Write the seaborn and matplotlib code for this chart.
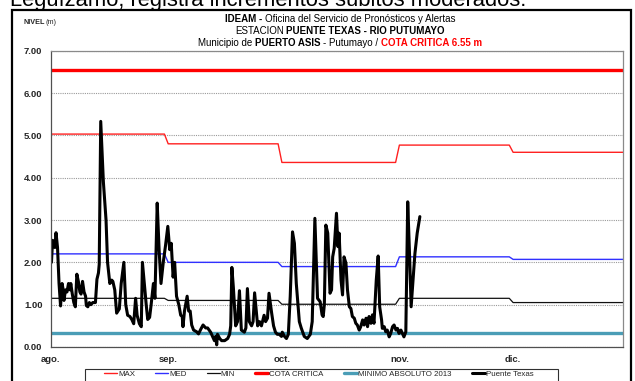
import matplotlib
matplotlib.use("Agg")
import numpy as np
import pandas as pd
import matplotlib.pyplot as plt
import seaborn as sns
from matplotlib.patches import Rectangle

# ---------------- datos ----------------
inicio = pd.Timestamp("2013-08-01")
fin_eje = pd.Timestamp("2013-12-30")
meses = pd.date_range("2013-08-01", periods=5, freq="MS")
etiquetas_meses = ["ago.", "sep.", "oct.", "nov.", "dic."]

# niveles de referencia mensuales (m)
nivel_max = [5.03, 4.80, 4.36, 4.77, 4.60]
nivel_med = [2.20, 2.00, 1.90, 2.13, 2.07]
nivel_min = [1.15, 1.10, 1.01, 1.15, 1.05]
cota_critica = 6.55
minimo_absoluto = 0.32

# lecturas de la estación Puente Texas (días desde el 1 de agosto, nivel en m)
dias_obs = [
    0.2, 0.5, 0.9, 1.1, 1.4, 1.8, 2.2, 2.6, 3.0, 3.2,
    3.5, 3.9, 4.3, 4.7, 5.1, 5.3, 5.7, 6.1, 6.5, 6.9,
    7.3, 7.7, 8.0, 8.4, 8.8, 9.2, 9.4, 9.8, 10.2, 10.6,
    11.1, 11.8, 12.2, 12.6, 12.8, 13.2, 13.9, 14.6, 15.0, 15.6,
    16.1, 16.4, 16.9, 17.4, 18.1, 18.6, 19.3, 19.8, 20.3, 20.9,
    21.4, 21.9, 22.4, 22.8, 23.4, 23.9, 24.2, 24.7, 25.2, 25.6,
    26.1, 26.5, 27.1, 27.5, 28.1, 28.6, 29.1, 29.7, 30.3, 30.9,
    31.4, 31.8, 32.3, 32.7, 33.2, 33.8, 34.3, 34.7, 34.9, 35.3,
    36.0, 36.4, 36.8, 37.2, 37.7, 38.5, 39.0, 39.6, 40.2, 40.9,
    41.4, 42.2, 42.7, 43.2, 43.5, 43.8, 44.0, 44.6, 45.1, 45.9,
    46.7, 47.2, 47.5, 47.8, 48.2, 48.8, 49.3, 49.8, 50.3, 51.1,
    51.5, 51.9, 52.4, 53.0, 53.4, 53.8, 54.6, 55.1, 55.6, 56.3,
    56.7, 57.2, 57.6, 58.3, 58.8, 59.3, 59.8, 60.3, 60.9, 61.1,
    61.7, 62.2, 62.7, 63.2, 63.8, 64.3, 64.8, 65.6, 66.1, 66.9,
    67.7, 68.5, 69.0, 69.7, 70.4, 71.1, 71.6, 71.9, 72.2, 72.6,
    73.1, 73.7, 74.1, 74.4, 74.8, 75.4, 75.8, 76.1, 76.6, 77.0,
    77.4, 77.9, 78.3, 78.8, 79.2, 79.6, 80.1, 80.5, 80.9, 81.4,
    81.8, 82.3, 82.7, 83.2, 83.6, 84.0, 84.5, 84.9, 85.3, 85.9,
    86.4, 86.8, 87.3, 87.5, 88.0, 88.4, 88.8, 89.3, 89.7, 90.2,
    90.6, 91.1, 91.5, 91.9, 92.4, 92.8, 93.2, 93.7, 94.2, 94.7,
    95.1, 95.6, 96.1, 96.7, 97.4,
]
nivel_obs = [
    2.00, 2.52, 2.48, 2.35, 2.70, 2.35, 1.50, 0.97, 1.50, 1.40,
    1.10, 1.35, 1.30, 1.50, 1.35, 1.50, 1.25, 1.05, 0.95, 1.72,
    1.55, 1.30, 1.25, 1.55, 1.30, 1.20, 0.98, 0.95, 1.05, 1.00,
    1.05, 1.05, 1.60, 1.75, 1.95, 5.33, 3.90, 3.00, 2.00, 1.50,
    1.58, 1.55, 1.35, 0.80, 0.90, 1.50, 2.00, 1.00, 0.75, 0.72,
    0.65, 0.55, 1.15, 0.75, 0.55, 0.48, 2.00, 1.50, 1.00, 0.65,
    0.70, 1.00, 1.50, 1.15, 3.40, 2.30, 1.50, 2.00, 2.40, 2.85,
    2.30, 2.45, 1.65, 2.00, 1.20, 1.00, 0.75, 0.72, 0.48, 0.85,
    1.20, 0.85, 0.85, 0.52, 0.40, 0.36, 0.31, 0.42, 0.52, 0.45,
    0.45, 0.35, 0.25, 0.15, 0.25, 0.05, 0.30, 0.20, 0.15, 0.15,
    0.20, 0.30, 0.50, 1.88, 1.40, 0.50, 0.60, 1.33, 0.40, 0.35,
    0.45, 1.38, 0.60, 0.50, 0.60, 1.28, 0.50, 0.60, 0.50, 0.75,
    0.60, 0.68, 1.27, 0.80, 0.50, 0.35, 0.30, 0.30, 0.25, 0.35,
    0.25, 0.20, 0.30, 1.20, 2.72, 2.45, 1.50, 0.60, 0.45, 0.25,
    0.20, 0.30, 0.60, 3.04, 1.15, 1.07, 0.76, 0.72, 1.00, 2.88,
    2.69, 1.27, 1.35, 2.13, 2.33, 3.16, 2.37, 2.69, 1.58, 1.23,
    2.13, 1.98, 1.35, 0.95, 0.91, 0.72, 0.68, 0.56, 0.52, 0.40,
    0.48, 0.64, 0.52, 0.68, 0.48, 0.72, 0.56, 0.76, 0.56, 1.58,
    2.15, 0.95, 0.64, 0.44, 0.48, 0.36, 0.40, 0.24, 0.32, 0.48,
    0.52, 0.40, 0.44, 0.32, 0.40, 0.32, 0.24, 0.36, 3.43, 2.13,
    0.95, 1.58, 2.21, 2.69, 3.08,
]


def escalones(valores):
    """Serie mensual: un tramo horizontal del primer al último día de cada mes."""
    fechas, niveles = [], []
    for mes, v in zip(meses, valores):
        fechas += [mes, mes + pd.offsets.MonthEnd(0)]
        niveles += [v, v]
    return pd.DataFrame({"fecha": fechas, "nivel": niveles})


def constante(v):
    return pd.DataFrame({"fecha": [meses[0], meses[-1] + pd.offsets.MonthEnd(0)],
                         "nivel": [v, v]})


obs = pd.DataFrame({"fecha": inicio + pd.to_timedelta(dias_obs, unit="D"),
                    "nivel": nivel_obs})

# ---------------- figura ----------------
sns.set_style("white")
plt.rcParams["font.family"] = ["Liberation Sans", "DejaVu Sans"]

W, H = 635, 381
fig = plt.figure(figsize=(W / 100, H / 100), dpi=100)
x0, x1, y0, y1 = 50.7, 623.0, 50.7, 347.0
ax = fig.add_axes([x0 / W, 1 - y1 / H, (x1 - x0) / W, (y1 - y0) / H])

series = [
    ("MAX", escalones(nivel_max), "#FF2020", 1.0),
    ("MED", escalones(nivel_med), "#3030FF", 1.0),
    ("MIN", escalones(nivel_min), "#101010", 0.9),
    ("COTA CRITICA", constante(cota_critica), "#FF0000", 2.4),
    ("MINIMO ABSOLUTO 2013", constante(minimo_absoluto), "#4A9DB6", 2.4),
    ("Puente Texas", obs, "#000000", 2.2),
]
for nombre, df, color, lw in series:
    sns.lineplot(data=df, x="fecha", y="nivel", ax=ax, color=color,
                 linewidth=lw, label=nombre, estimator=None, sort=False)

ax.set_xlim(inicio, fin_eje)
ax.set_ylim(0, 7)
ax.set_yticks(np.arange(0, 8, 1))
ax.set_yticklabels([f"{v:.2f}" for v in np.arange(0, 8, 1)])
ax.set_xticks(meses)
ax.set_xticklabels(etiquetas_meses)
ax.set_xlabel("")
ax.set_ylabel("")
ax.tick_params(axis="both", direction="out", length=3, width=0.8,
               color="#707070", labelsize=6.8, pad=3)
for lab in ax.get_xticklabels() + ax.get_yticklabels():
    lab.set_fontweight("bold")
ax.yaxis.grid(True, linestyle=(0, (1, 1)), color="#9A9A9A", linewidth=0.8)
ax.xaxis.grid(False)
for lado, sp in ax.spines.items():
    sp.set_visible(True)
    sp.set_linewidth(0.9)
    sp.set_color("#505050" if lado in ("left", "bottom") else "#8A8A8A")

# leyenda en una fila bajo el eje
ax.legend(loc="upper left", bbox_to_anchor=(104 / W, 1 - 370.5 / H),
          bbox_transform=fig.transFigure, ncol=6, frameon=False, fontsize=5.7,
          handlelength=1.65, handletextpad=0.12, columnspacing=2.55,
          borderpad=0, borderaxespad=0)
fig.add_artist(Rectangle((85 / W, -0.05), (558 - 85) / W, 0.05 + 1 - 369 / H,
                         transform=fig.transFigure, fill=False,
                         edgecolor="#303030", linewidth=0.8))

# marco exterior
fig.add_artist(Rectangle((12 / W, -0.05), (631 - 12) / W, 0.05 + 1 - 10 / H,
                         transform=fig.transFigure, fill=False,
                         edgecolor="black", linewidth=1.6))

# texto del párrafo superior
fig.text(10 / W, 1 - 6 / H, "Leguízamo, registra incrementos súbitos moderados.",
         fontsize=15.8, va="baseline", ha="left", color="black")

# etiqueta de unidades
fig.text(24 / W, 1 - 22 / H, "NIVEL", fontsize=5.2, fontweight="bold",
         va="center", ha="left")
fig.text(46 / W, 1 - 22 / H, "(m)", fontsize=5.2, va="center", ha="left")

# encabezado en tres líneas con tramos en negrita
fig.canvas.draw()
renderer = fig.canvas.get_renderer()


def linea_mixta(y_px, partes, size=7.0, xc_px=340):
    arts = [fig.text(0, 1 - y_px / H, s, fontsize=size, fontweight=w, color=c,
                     va="center", ha="left") for s, w, c in partes]
    gap = size * 100 / 72 * 0.26
    anchos = [a.get_window_extent(renderer).width for a in arts]
    total = sum(anchos) + gap * (len(arts) - 1)
    x = xc_px - total / 2
    for a, wd in zip(arts, anchos):
        a.set_x(x / W)
        x += wd + gap


linea_mixta(19, [("IDEAM -", "bold", "black"),
                 ("Oficina del Servicio de Pronósticos y Alertas", "normal", "black")])
linea_mixta(31.5, [("ESTACION", "normal", "black"),
                   ("PUENTE TEXAS - RIO PUTUMAYO", "bold", "black")])
linea_mixta(43, [("Municipio de", "normal", "black"),
                 ("PUERTO ASIS", "bold", "black"),
                 ("- Putumayo /", "normal", "black"),
                 (f"COTA CRITICA {cota_critica:.2f} m", "bold", "#FF0000")])

fig.savefig("out.png", dpi=100)
